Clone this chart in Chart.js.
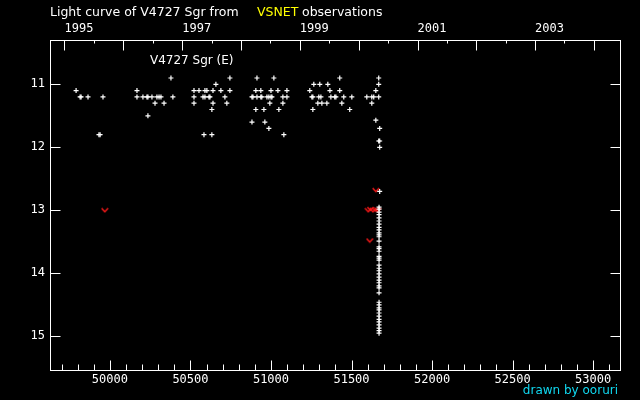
<!DOCTYPE html>
<html>
<head>
<meta charset="utf-8">
<title>Light curve of V4727 Sgr</title>
<script src="https://cdn.jsdelivr.net/npm/chart.js@4.4.1/dist/chart.umd.min.js"></script>
<style>
  html, body { margin: 0; padding: 0; background: #000; }
  #wrap { width: 640px; height: 400px; }
</style>
</head>
<body>
<div id="wrap"><canvas id="lc" width="640" height="400"></canvas></div>
<script>
// VSNET estimates of V4727 Sgr, dates in MJD
// grouped by magnitude: obsMJD[i] holds the dates seen at obsMag[i]
const obsMag = [10.9, 11.0, 11.1, 11.2, 11.3, 11.4, 11.5, 11.57, 11.6, 11.7, 11.8, 11.9, 12.0, 12.7];
const obsMJD = [
  [50379, 50745, 50913, 51018, 51427, 51669],
  [50658, 51266, 51303, 51353, 51669],
  [49790, 50168, 50522, 50553, 50590, 50602, 50640, 50689, 50745, 50906, 50937, 51000, 51043, 51099, 51241, 51366, 51427, 51651],
  [49815, 49821, 49864, 49957, 50168, 50205, 50230, 50236, 50261, 50292, 50305, 50317, 50391, 50522, 50578, 50590, 50615, 50621,
   50714, 50882, 50888, 50913, 50937, 50943, 50975, 50987, 51000, 51006, 51074, 51099, 51254, 51260, 51297, 51310, 51372, 51396,
   51403, 51452, 51502, 51595, 51626, 51638, 51669],
  [50280, 50336, 50522, 50640, 50726, 50993, 51074, 51291, 51316, 51347, 51440, 51626],
  [50633, 50906, 50956, 51049, 51260, 51489],
  [50236],
  [51651],
  [50882, 50962],
  [50987, 51675],
  [49932, 49939, 50584, 50633, 51080],
  [51669, 51675],
  [51675],
  [51675]
];

// the deep fade, all piled up at one date
const fadeMJD = 51671;
const fadeMag = [12.95, 12.98, 13.03, 13.07, 13.12, 13.17, 13.22, 13.27, 13.31, 13.36, 13.39, 13.42, 13.49, 13.58,
  13.61, 13.65, 13.73, 13.76, 13.79, 13.87, 13.92, 13.96, 14.01, 14.06, 14.11, 14.15, 14.20, 14.23, 14.31,
  14.46, 14.50, 14.55, 14.58, 14.63, 14.68, 14.73, 14.77, 14.82, 14.87, 14.91, 14.95];

// "fainter than" estimates (red v)
const limMJD = [49968, 51651, 51604, 51618, 51633, 51648, 51662, 51613];
const limMag = [13.0, 12.68, 13.0, 12.98, 13.0, 12.99, 13.0, 13.48];

// axes
const mjdRange = [49628, 53167];
const magRange = [10.297, 15.535];
const mjdLabels = [50000, 50500, 51000, 51500, 52000, 52500, 53000];
const magLabels = [11, 12, 13, 14, 15];
const yearLabels = ['1995', '1997', '1999', '2001', '2003'];
const yearLabelMJD = [49718, 50449, 51179, 51910, 52640];
const yearStartMJD = [49718, 50083, 50449, 50814, 51179, 51544, 51910, 52275, 52640, 53005];
const midYearMJD = [49900, 50265, 50631, 50996, 51361, 51727, 52092, 52457, 52822];

const numFont = { family: 'DejaVu Sans Mono', size: 12 };
const titleFont = '12.5px "DejaVu Sans"';
const noteFont = '12px "DejaVu Sans"';

// build points
const obsPoints = [];
obsMag.forEach((m, i) => obsMJD[i].forEach(d => obsPoints.push({ x: d, y: m })));
fadeMag.forEach(m => obsPoints.push({ x: fadeMJD, y: m }));
const limPoints = limMJD.map((d, i) => ({ x: d, y: limMag[i] }));

// small red "v" for upper limits
function makeVMark() {
  const c = document.createElement('canvas');
  c.width = 8; c.height = 6;
  const g = c.getContext('2d');
  g.strokeStyle = '#ff1a1a';
  g.lineWidth = 1.4;
  g.beginPath();
  g.moveTo(0.8, 1); g.lineTo(4, 4.4); g.lineTo(7.2, 1);
  g.stroke();
  return c;
}

// black page, frame with inward ticks, title and notes
const framePlugin = {
  id: 'frame',
  beforeDraw(chart) {
    const ctx = chart.ctx;
    ctx.save();
    ctx.fillStyle = '#000';
    ctx.fillRect(0, 0, chart.width, chart.height);
    ctx.restore();
  },
  afterDraw(chart) {
    const { ctx, chartArea: a, scales } = chart;
    const px = v => Math.round(scales.x.getPixelForValue(v)) + 0.5;
    const py = v => Math.round(scales.y.getPixelForValue(v)) + 0.5;
    const L = a.left + 0.5, R = a.right + 0.5, T = a.top + 0.5, B = a.bottom + 0.5;

    ctx.save();
    ctx.strokeStyle = '#fff';
    ctx.lineWidth = 1;
    ctx.strokeRect(L, T, R - L, B - T);

    ctx.beginPath();
    // bottom: MJD ticks, long every 500, short every 100
    for (let m = 49700; m < mjdRange[1]; m += 100) {
      const len = m % 500 === 0 ? 10 : 6;
      ctx.moveTo(px(m), B); ctx.lineTo(px(m), B - len);
    }
    // top: year ticks, long at Jan 1, short mid-year
    yearStartMJD.forEach(m => { ctx.moveTo(px(m), T); ctx.lineTo(px(m), T + 10); });
    midYearMJD.forEach(m => { ctx.moveTo(px(m), T); ctx.lineTo(px(m), T + 3); });
    // magnitude ticks on both sides
    magLabels.forEach(v => {
      ctx.moveTo(L, py(v)); ctx.lineTo(L + 10, py(v));
      ctx.moveTo(R, py(v)); ctx.lineTo(R - 10, py(v));
    });
    ctx.stroke();

    ctx.textBaseline = 'alphabetic';
    ctx.textAlign = 'left';
    ctx.font = titleFont;
    ctx.fillStyle = '#fff';
    ctx.fillText('Light curve of V4727 Sgr from', 50, 16);
    ctx.fillStyle = '#ffff00';
    ctx.fillText('VSNET', 257, 16);
    ctx.fillStyle = '#fff';
    ctx.fillText('observations', 302, 16);

    ctx.font = noteFont;
    ctx.fillText('V4727 Sgr (E)', 150, 64);
    ctx.fillStyle = '#10d8f0';
    ctx.textAlign = 'right';
    ctx.fillText('drawn by ooruri', 618, 394);
    ctx.restore();
  }
};

new Chart(document.getElementById('lc'), {
  type: 'scatter',
  data: {
    datasets: [
      {
        label: 'V4727 Sgr',
        data: obsPoints,
        pointStyle: 'cross',
        pointRadius: 2.5,
        borderColor: '#fff',
        backgroundColor: '#fff',
        borderWidth: 1.2
      },
      {
        label: 'fainter than',
        data: limPoints,
        pointStyle: makeVMark(),
        pointRadius: 3
      }
    ]
  },
  options: {
    responsive: false,
    animation: false,
    devicePixelRatio: 1,
    layout: { padding: { left: 0, right: 20, top: 0, bottom: 0 } },
    plugins: { legend: { display: false }, tooltip: { enabled: false } },
    scales: {
      x: {
        type: 'linear',
        position: 'bottom',
        min: mjdRange[0],
        max: mjdRange[1],
        afterBuildTicks: s => { s.ticks = mjdLabels.map(v => ({ value: v })); },
        afterFit: s => { s.height = 30; },
        grid: { display: false, drawTicks: false },
        border: { display: false },
        ticks: {
          color: '#fff', font: numFont, padding: 3,
          autoSkip: false, maxRotation: 0,
          callback: v => String(v)
        }
      },
      x2: {
        type: 'linear',
        position: 'top',
        min: mjdRange[0],
        max: mjdRange[1],
        afterBuildTicks: s => { s.ticks = yearLabelMJD.map(v => ({ value: v })); },
        afterFit: s => { s.height = 40; },
        grid: { display: false, drawTicks: false },
        border: { display: false },
        ticks: {
          color: '#fff', font: numFont, padding: 4, align: 'start',
          autoSkip: false, maxRotation: 0,
          callback: (v, i) => yearLabels[i]
        }
      },
      y: {
        type: 'linear',
        reverse: true,
        min: magRange[0],
        max: magRange[1],
        afterBuildTicks: s => { s.ticks = magLabels.map(v => ({ value: v })); },
        afterFit: s => { s.width = 50; },
        grid: { display: false, drawTicks: false },
        border: { display: false },
        ticks: { color: '#fff', font: numFont, padding: 5, callback: v => String(v) }
      }
    }
  },
  plugins: [framePlugin]
});
</script>
</body>
</html>
